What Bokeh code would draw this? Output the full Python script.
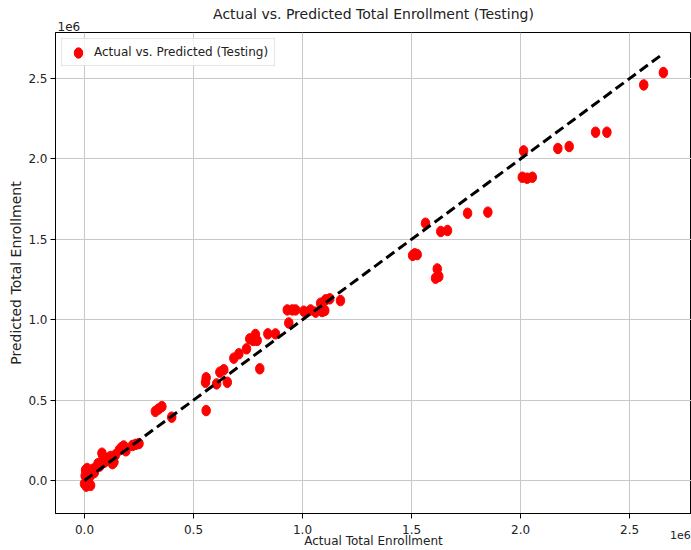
from bokeh.plotting import figure
from bokeh.models import (Range1d, FixedTicker, CustomJSTickFormatter, Title,
                          LinearAxis)
from bokeh.embed import file_html
from bokeh.resources import INLINE

FONT = "DejaVu Sans"

# Actual vs predicted total enrollment (testing set)
actual = [
    0, 3000, 5000, 8000, 10000, 12000, 15000, 18000, 20000, 25000, 28000, 30000,
    38000, 45000, 55000, 62000, 70000, 80000, 85000, 92000, 100000, 112000, 120000,
    128000, 135000, 142000, 160000, 170000, 180000, 190000, 220000, 235000, 250000,
    325000, 340000, 355000, 400000, 558000, 555000, 558000, 606000, 621000, 639000,
    655000, 685000, 708000, 743000, 758000, 774000, 784000, 792000, 804000, 841000,
    876000, 930000, 937000, 953000, 968000, 1006000, 1037000, 1060000, 1083000,
    1090000, 1102000, 1106000, 1125000, 1174000,
    1505000, 1515000, 1526000, 1564000, 1610000, 1618000, 1625000, 1634000, 1665000,
    1757000, 1850000, 2008000, 2014000, 2030000, 2054000, 2171000, 2223000, 2344000,
    2396000, 2565000, 2655000,
]
predicted = [
    -20000, 30000, 65000, -35000, 10000, 75000, 45000, -25000, 20000, 60000, -30000, 35000,
    70000, 50000, 85000, 105000, 90000, 170000, 150000, 115000, 125000, 140000, 150000,
    105000, 115000, 160000, 190000, 205000, 215000, 185000, 218000, 225000, 230000,
    430000, 445000, 460000, 394000, 435000, 611000, 639000, 601000, 674000, 689000,
    611000, 761000, 788000, 819000, 881000, 871000, 908000, 871000, 695000, 912000,
    912000, 1061000, 980000, 1061000, 1061000, 1053000, 1061000, 1047000, 1103000,
    1051000, 1057000, 1124000, 1130000, 1119000,
    1400000, 1410000, 1405000, 1600000, 1258000, 1316000, 1269000, 1549000, 1555000,
    1662000, 1669000, 1886000, 2050000, 1880000, 1886000, 2065000, 2077000, 2166000,
    2166000, 2460000, 2537000,
]
tick_values = [0, 500000, 1000000, 1500000, 2000000, 2500000]
scale_text = "1e6"

line_x = [min(actual), max(actual)]
line_y = [min(actual), max(actual)]

p = figure(width=691, height=550, output_backend="svg", toolbar_location=None,
           x_range=Range1d(-133000, 2784000), y_range=Range1d(-205000, 2786000),
           min_border_left=55, min_border_right=0, min_border_top=32, min_border_bottom=37)

p.title.text = "Actual vs. Predicted Total Enrollment (Testing)"
p.title.align = "center"
p.title.text_font = FONT
p.title.text_font_size = "14px"
p.title.text_font_style = "normal"
p.title.text_color = "#222222"
p.title.standoff = 0

# offset-text ("1e6") of the y axis, just above the frame on the left
p.add_layout(Title(text=scale_text, align="left", offset=2, standoff=0,
                   vertical_align="top",
                   text_font=FONT, text_font_size="12px", text_font_style="normal",
                   text_color="#222222"), "above")

p.ellipse(actual, predicted, width=8.5, height=10.5, width_units="screen",
          height_units="screen", fill_color="red", line_color="red",
          legend_label="Actual vs. Predicted (Testing)")
p.line(line_x, line_y, line_color="black", line_width=3, line_dash="10 5")

fmt = CustomJSTickFormatter(code="return (tick/1e6).toFixed(1)")
for ax in (p.xaxis[0], p.yaxis[0]):
    ax.ticker = FixedTicker(ticks=tick_values)
    ax.formatter = fmt
    ax.major_tick_out = 5
    ax.major_tick_in = 0
    ax.minor_tick_line_color = None
    ax.axis_line_color = "black"
    ax.major_tick_line_color = "black"
    ax.major_label_text_font = FONT
    ax.major_label_text_font_size = "12px"
    ax.major_label_text_color = "#222222"
    ax.axis_label_text_font = FONT
    ax.axis_label_text_font_style = "normal"
    ax.axis_label_text_color = "#222222"
    ax.major_label_standoff = 3

p.xaxis.major_label_standoff = 6
p.yaxis.axis_label = "Predicted Total Enrollment"
p.yaxis.axis_label_text_font_size = "14px"
p.yaxis.axis_label_standoff = 1

# second bottom axis: carries the x offset-text "1e6" at the right and the x label
aux = LinearAxis(ticker=FixedTicker(ticks=[2740000]),
                 formatter=CustomJSTickFormatter(code="return '%s'" % scale_text),
                 axis_line_color=None, major_tick_line_color=None,
                 minor_tick_line_color=None, major_tick_out=0, major_tick_in=0,
                 major_label_standoff=-6, major_label_text_font=FONT,
                 major_label_text_font_size="11px", major_label_text_color="#222222",
                 axis_label="Actual Total Enrollment", axis_label_standoff=-8,
                 axis_label_text_font=FONT, axis_label_text_font_size="12px",
                 axis_label_text_font_style="normal", axis_label_text_color="#222222")
p.add_layout(aux, "below")

p.grid.grid_line_color = "#c8c8c8"
p.grid.grid_line_width = 1
p.outline_line_color = "black"
p.outline_line_width = 1

p.legend.location = "top_left"
p.legend.margin = 6
p.legend.padding = 6
p.legend.label_standoff = 6
p.legend.glyph_width = 20
p.legend.glyph_height = 13
p.legend.label_text_font = FONT
p.legend.label_text_font_size = "12px"
p.legend.label_text_color = "#222222"
p.legend.border_line_color = "#cccccc"
p.legend.background_fill_alpha = 0.8

open("out.html", "w").write(file_html(p, INLINE))
